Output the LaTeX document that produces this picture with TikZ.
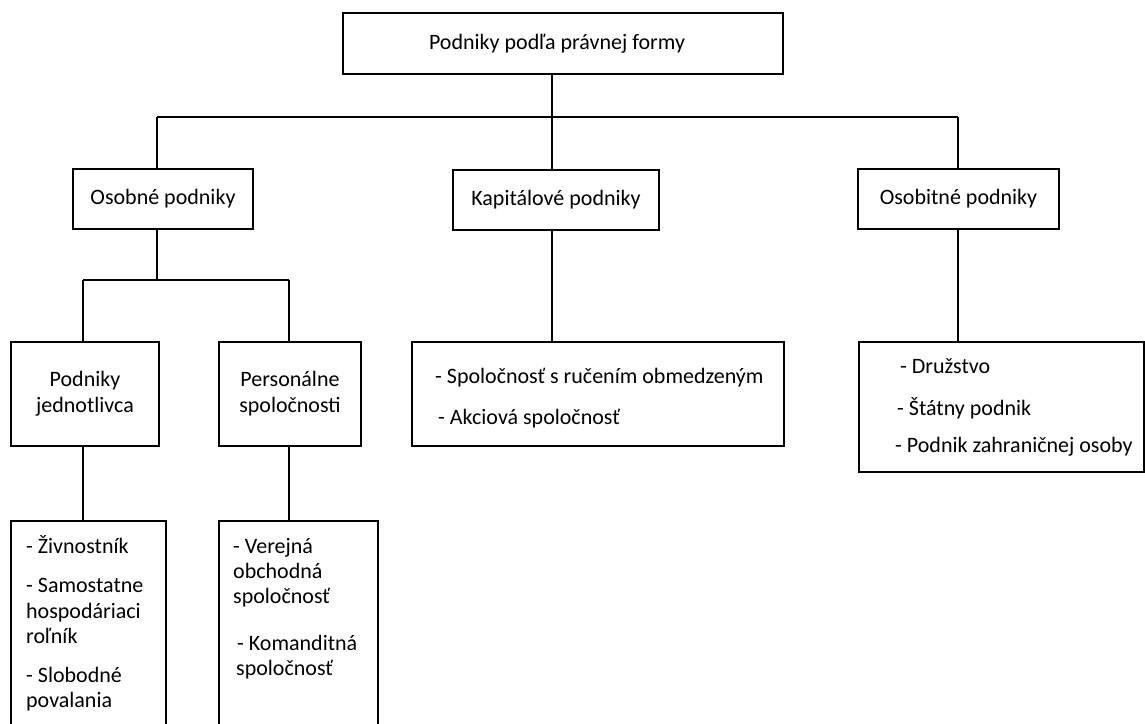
\documentclass[tikz,border=0pt]{standalone}
\usepackage{fontspec}
\setmainfont{Carlito}
\begin{document}
\begin{tikzpicture}[x=1pt,y=-1pt,
  box/.style={draw, line width=1.3pt, rectangle, inner sep=0pt, align=center,
    font=\fontsize{22}{26}\selectfont},
  txt/.style={anchor=base west, inner sep=0pt, font=\fontsize{22}{26}\selectfont},
  conn/.style={line width=1.3pt}]
\path[use as bounding box, clip] (0,0) rectangle (1145,723);
\fill[white] (0,0) rectangle (1145,723);

% level 1
\node[box, minimum width=440, minimum height=61] (top) at (563,43.5) {Podniky podľa právnej formy\hspace*{12pt}};
% level 2
\node[box, minimum width=180, minimum height=60] (osobne) at (163,199) {Osobné podniky};
\node[box, minimum width=206, minimum height=60] (kap) at (556,200) {Kapitálové podniky};
\node[box, minimum width=201, minimum height=60] (osobit) at (958.5,199) {Osobitné podniky};
% level 3
\node[box, minimum width=148, minimum height=104] (jedn) at (85,394) {Podniky\\jednotlivca};
\node[box, minimum width=142, minimum height=104] (pers) at (290,394) {Personálne\\spoločnosti};
\node[box, minimum width=372, minimum height=104] (kapl) at (598,394) {};
\node[box, minimum width=285, minimum height=130] (osobl) at (1001.5,407) {};
% level 4 (open at the bottom, cut by the page)
\node[box, minimum width=155, minimum height=260] (jedl) at (88.5,651) {};
\node[box, minimum width=159, minimum height=260] (persl) at (298.5,651) {};

% texts in list boxes
\node[txt] (k1) at (435,383) {- Spoločnosť s ručením obmedzeným};
\node[txt] (k2) at (438,424) {- Akciová spoločnosť};
\node[txt] (o1) at (900,373) {- Družstvo};
\node[txt] (o2) at (897,415) {- Štátny podnik};
\node[txt] (o3) at (895,452) {- Podnik zahraničnej osoby};
\node[txt] (j1) at (26,553) {- Živnostník};
\node[txt] (j2) at (26,592) {- Samostatne};
\node[txt] (j3) at (26,618) {hospodáriaci};
\node[txt] (j4) at (26,643) {roľník};
\node[txt] (j5) at (26,682) {- Slobodné};
\node[txt] (j6) at (26,707) {povalania};
\node[txt] (p1) at (233,553) {- Verejná};
\node[txt] (p2) at (233,578) {obchodná};
\node[txt] (p3) at (233,603) {spoločnosť};
\node[txt] (p4) at (237,650) {- Komanditná};
\node[txt] (p5) at (236,675) {spoločnosť};

% connectors
\coordinate (hL) at (157,117);
\coordinate (hM) at (552,117);
\coordinate (hR) at (958,117);
\draw[conn] (top.south -| hM) -- (hM);
\draw[conn] (hL) -- (hR);
\draw[conn] (hL) -- (osobne.north -| hL);
\draw[conn] (hM) -- (kap.north -| hM);
\draw[conn] (hR) -- (osobit.north -| hR);

\coordinate (sL) at (157,280);
\coordinate (sA) at (83,280);
\coordinate (sB) at (289,280);
\draw[conn] (osobne.south -| sL) -- (sL);
\draw[conn] (sA) -- (sB);
\draw[conn] (sA) -- (jedn.north -| sA);
\draw[conn] (sB) -- (pers.north -| sB);

\draw[conn] (kap.south -| hM) -- (kapl.north -| hM);
\draw[conn] (osobit.south -| hR) -- (osobl.north -| hR);

\draw[conn] (jedn.south -| sA) -- (jedl.north -| sA);
\draw[conn] (pers.south -| sB) -- (persl.north -| sB);
\end{tikzpicture}
\end{document}
